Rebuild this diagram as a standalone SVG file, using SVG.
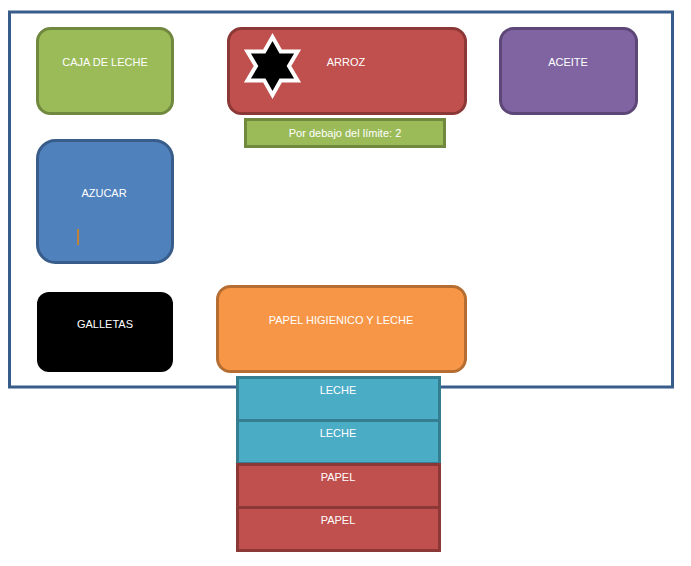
<svg xmlns="http://www.w3.org/2000/svg" width="691" height="566" viewBox="0 0 691 566">
<style>
text{font-family:"Liberation Sans",Arial,sans-serif;font-size:11px;fill:#ffffff;text-anchor:middle}
.g{fill:#9BBB59;stroke:#71893F;stroke-width:3}
.r{fill:#C0504D;stroke:#8C3836;stroke-width:3}
.p{fill:#8064A2;stroke:#5C4776;stroke-width:3}
.b{fill:#4F81BD;stroke:#385D8A;stroke-width:3}
.o{fill:#F79646;stroke:#B66D31;stroke-width:3}
.t{fill:#4BACC6;stroke:#357D91;stroke-width:3}
</style>
<rect width="691" height="566" fill="#ffffff"/>
<g id="frame"><rect x="9.5" y="12" width="663" height="375" fill="none" stroke="#385D8A" stroke-width="3"/></g>
<g id="caja"><rect class="g" x="37.5" y="28.5" width="135" height="85" rx="13"/><text x="105" y="66">CAJA DE LECHE</text></g>
<g id="arroz"><rect class="r" x="228.5" y="28.5" width="237" height="85" rx="13"/><text x="346" y="66">ARROZ</text>
<polygon points="272.5,37 280.7,51.5 297.6,51.5 289,66 297.6,80.5 280.7,80.5 272.5,95 264.3,80.5 247.4,80.5 256,66 247.4,51.5 264.3,51.5" fill="#000000" stroke="#ffffff" stroke-width="4" stroke-linejoin="miter"/></g>
<g id="limite"><rect class="g" x="245.5" y="119.5" width="199" height="27"/><text x="345" y="136.5">Por debajo del límite: 2</text></g>
<g id="aceite"><rect class="p" x="500.5" y="28.5" width="136" height="85" rx="13"/><text x="568" y="66">ACEITE</text></g>
<g id="azucar"><rect class="b" x="37.5" y="140.5" width="135" height="122" rx="18"/><text x="104" y="197">AZUCAR</text><line x1="78" y1="229" x2="78" y2="245" stroke="#C0813A" stroke-width="2"/></g>
<g id="galletas"><rect x="37" y="292" width="136" height="80" rx="12" fill="#000000"/><text x="105" y="328">GALLETAS</text></g>
<g id="papel-higienico"><rect class="o" x="217.5" y="286.5" width="248" height="85" rx="13"/><text x="341" y="324">PAPEL HIGIENICO Y LECHE</text></g>
<g id="leche1"><rect class="t" x="237.5" y="377.5" width="202" height="43"/><text x="338" y="394">LECHE</text></g>
<g id="leche2"><rect class="t" x="237.5" y="420.5" width="202" height="43"/><text x="338" y="437">LECHE</text></g>
<g id="papel1"><rect class="r" x="237.5" y="464.5" width="202" height="43"/><text x="338" y="481">PAPEL</text></g>
<g id="papel2"><rect class="r" x="237.5" y="507.5" width="202" height="43"/><text x="338" y="524">PAPEL</text></g>
<g id="connectors"></g>
</svg>
